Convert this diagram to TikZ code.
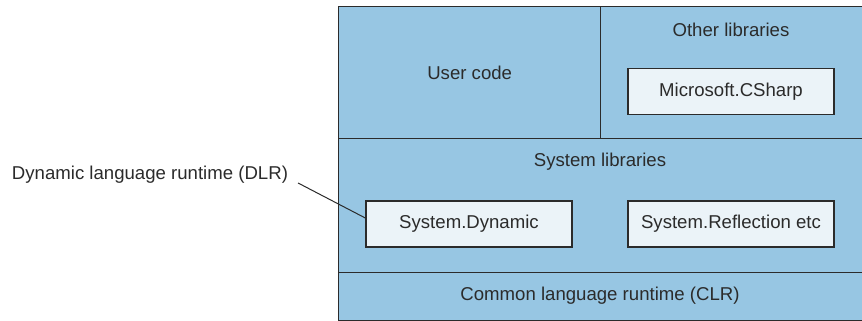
\documentclass[tikz,border=0pt]{standalone}
\usepackage{fontspec}
\setmainfont{Liberation Sans}
\usetikzlibrary{positioning}
\definecolor{layerblue}{HTML}{97C6E3}
\definecolor{boxwhite}{HTML}{EBF3F8}
\definecolor{inkgray}{HTML}{2B2B2B}

\begin{document}
\begin{tikzpicture}[x=0.5pt,y=-0.5pt,
    every node/.style={text=inkgray,font=\fontsize{9.3}{11}\selectfont},
    layer/.style={draw=inkgray,fill=layerblue,line width=0.7pt,inner sep=0pt,anchor=north west},
    libbox/.style={draw=inkgray,fill=boxwhite,line width=0.7pt,inner sep=0pt,minimum width=103pt,minimum height=23pt}]
    \useasboundingbox (0,0) rectangle (862,321);
    \clip (0,0) rectangle (862,321);
    % Layers of the stack
    \node[layer,minimum width=131pt,minimum height=66pt] (user) at (338,6) {User code};
    \node[layer,minimum width=135pt,minimum height=66pt] (other) at (600,6) {};
    \node[layer,minimum width=266pt,minimum height=67pt] (syslib) at (338,138) {};
    \node[layer,minimum width=266pt,minimum height=24pt] (clr) at (338,272) {};
    \node (clrtxt) at (600,296) {Common language runtime (CLR)};
    % Titles of the layers
    \node (othertxt) at (731,30) {Other libraries};
    \node (systxt) at (600,162) {System libraries};
    % Library boxes
    \node[libbox] (csharp) at (731,91.5) {Microsoft.CSharp};
    \node[libbox] (sysdyn) at (469,224) {System.Dynamic};
    \node[libbox] (sysrefl) at (731,224) {System.Reflection etc};
    % DLR label
    \node (dlr) at (150,175) {Dynamic language runtime (DLR)};
    \draw[inkgray,line width=0.5pt] ([xshift=1.5pt,yshift=-4pt]dlr.east) -- ([yshift=3pt]sysdyn.west);
\end{tikzpicture}
\end{document}
